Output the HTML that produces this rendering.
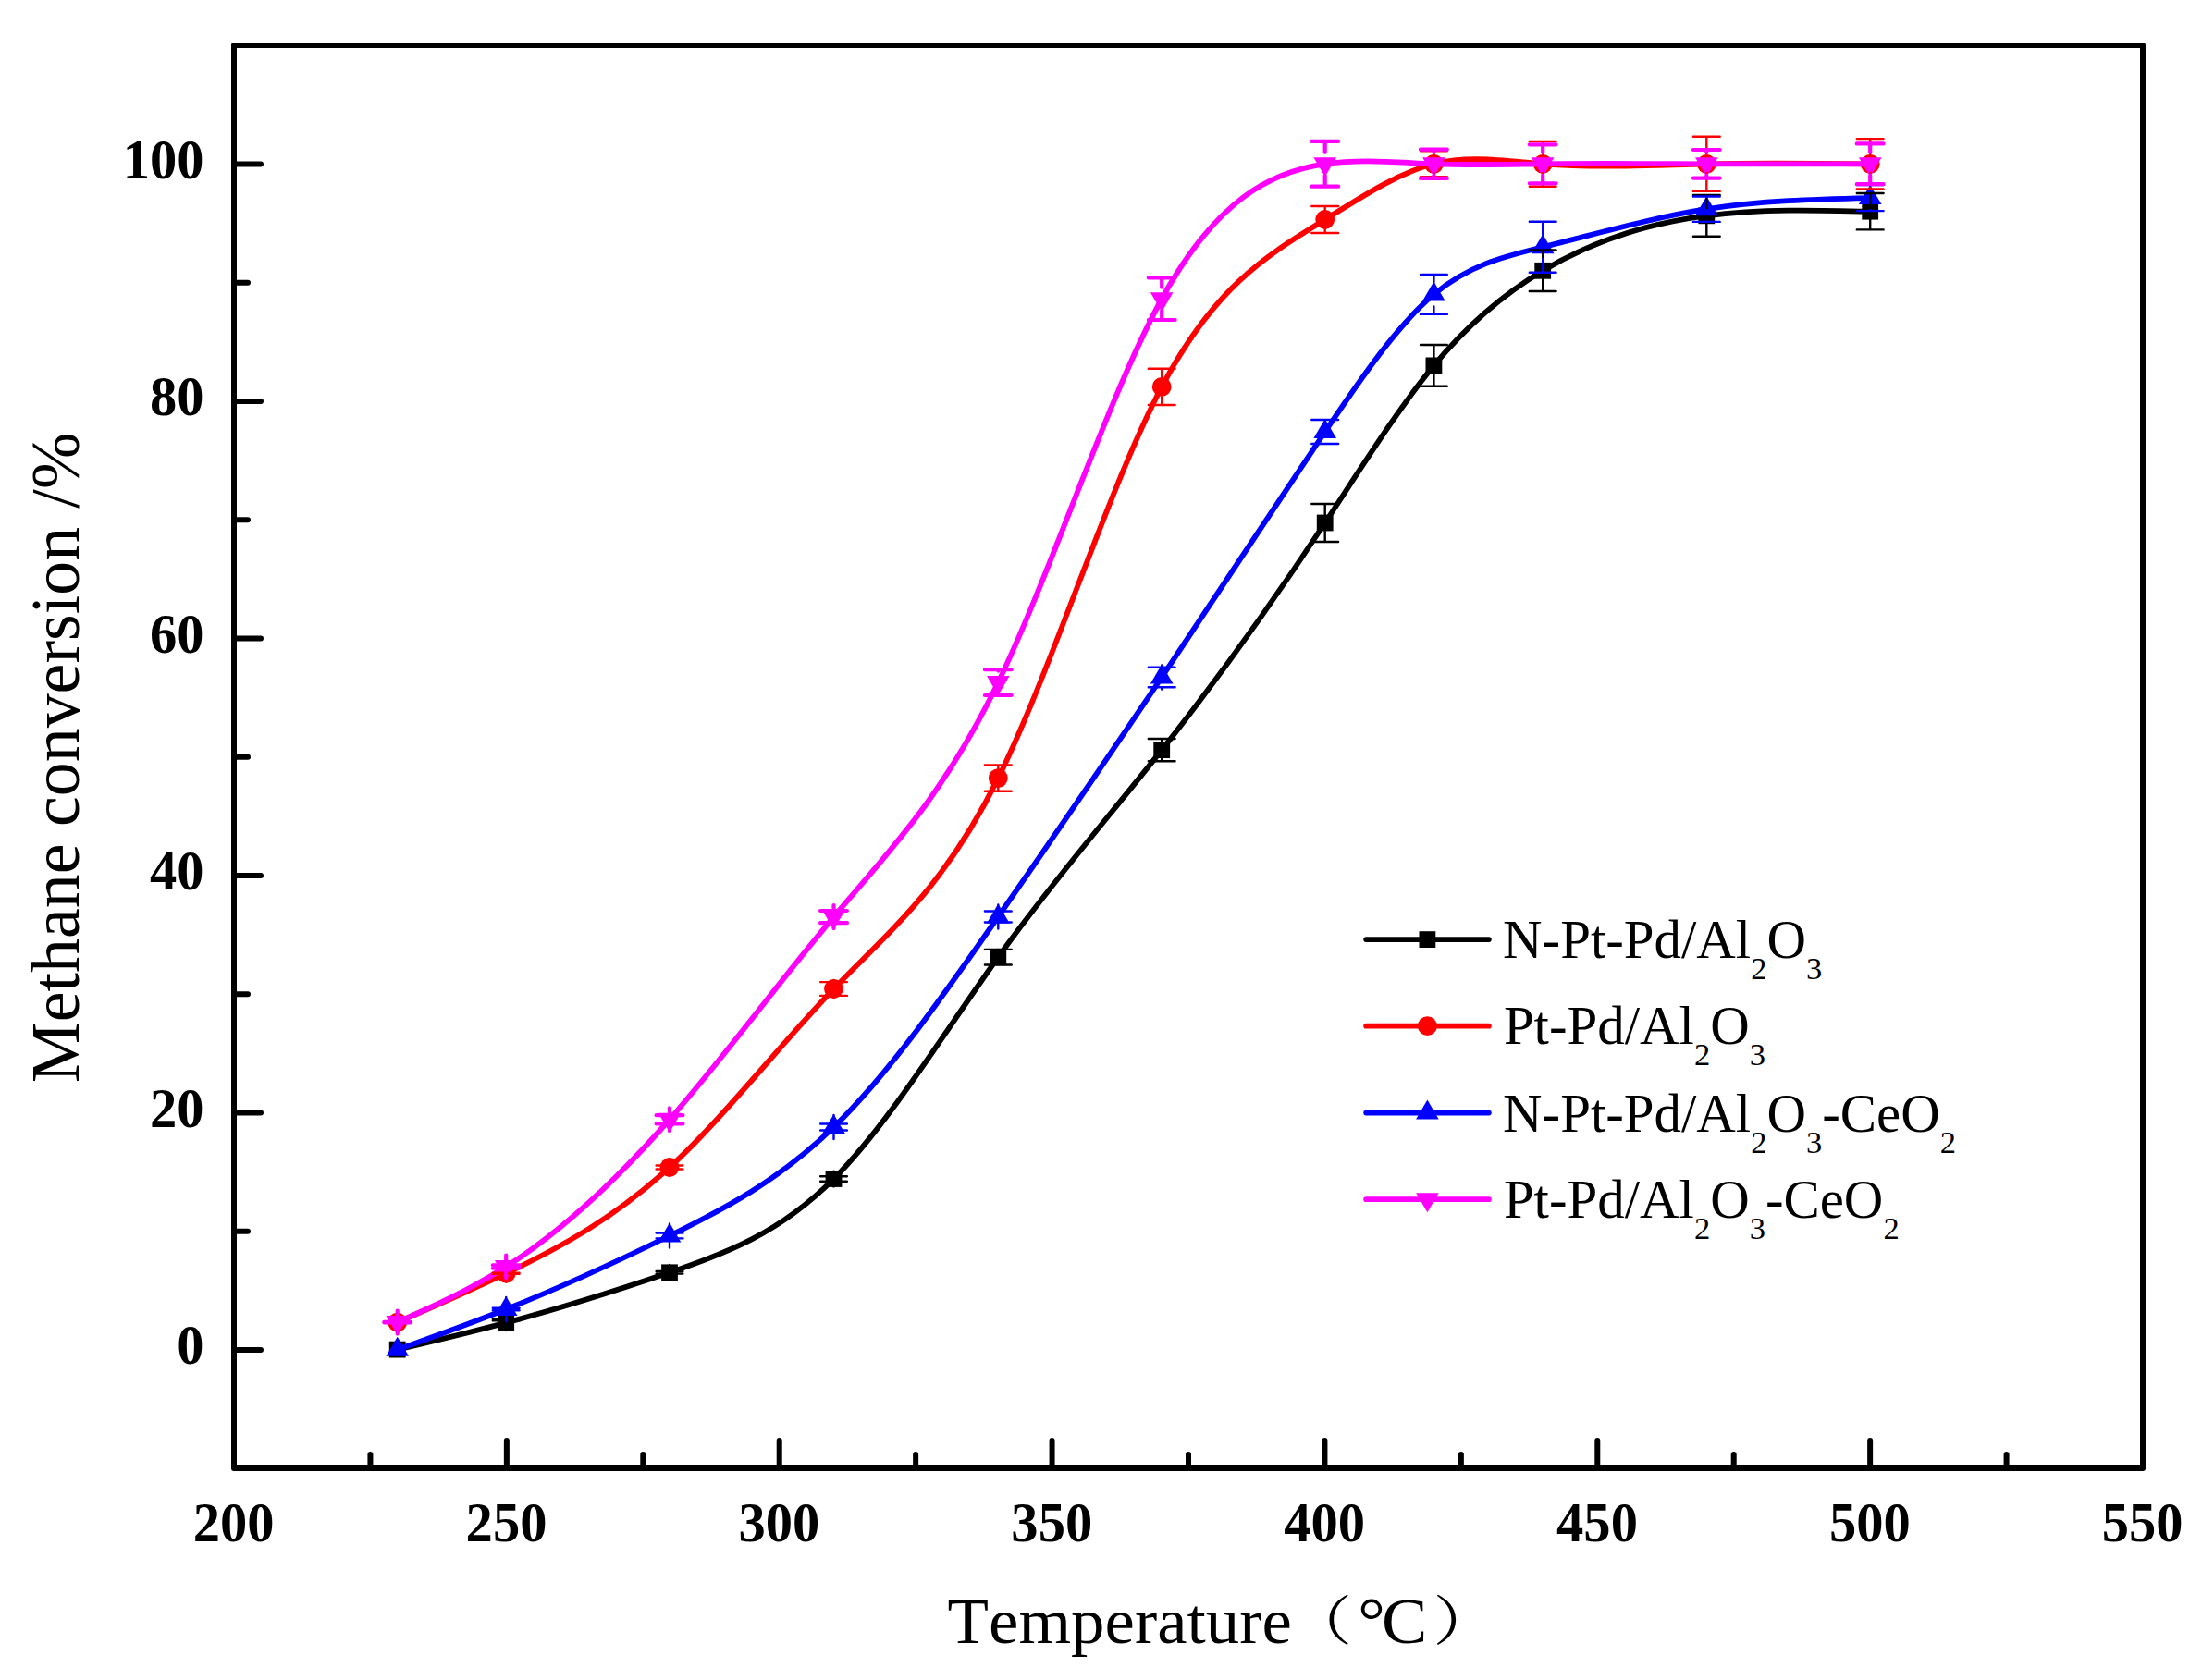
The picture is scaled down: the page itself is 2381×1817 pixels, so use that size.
<!DOCTYPE html>
<html lang="en"><head><meta charset="utf-8"><title>Methane conversion vs temperature</title>
<style>html,body{margin:0;padding:0;background:#fff}svg{display:block}text{font-family:"Liberation Serif","Noto Serif CJK SC",serif;fill:#000;font-kerning:none}.tk{font-weight:bold;font-size:59.5px}.lg{font-size:58.85px}.sb{font-size:34.5px}</style></head><body>
<svg width="2381" height="1817" viewBox="0 0 2381 1817" role="img" aria-label="Methane conversion versus temperature">
<rect width="2381" height="1817" fill="#fff"/>
<g id="black">
<path d="M429.7 1459.6C468.87 1450.34 508.03 1441.07 547.2 1430.6C606.13 1414.84 665.07 1396.34 724 1376.3C783.17 1356.18 842.33 1334.52 901.5 1275C960.77 1215.38 1020.03 1117.79 1079.3 1035.2C1138.27 953.03 1197.23 885.72 1256.2 811.1C1315.03 736.65 1373.87 654.94 1432.7 565.5C1471.93 505.86 1511.17 442.78 1550.4 395.4C1589.67 347.97 1628.93 316.27 1668.2 292.8C1727.23 257.52 1786.27 240.88 1845.3 233.3C1904.27 225.73 1963.23 227.22 2022.2 228.7" fill="none" stroke="#000000" stroke-width="5.8" stroke-linecap="round" stroke-linejoin="round"/>
<rect x="420.8" y="1450.7" width="17.8" height="17.8" fill="#000000"/>
<rect x="538.3" y="1421.7" width="17.8" height="17.8" fill="#000000"/>
<rect x="715.1" y="1367.4" width="17.8" height="17.8" fill="#000000"/>
<rect x="892.6" y="1266.1" width="17.8" height="17.8" fill="#000000"/>
<rect x="1070.4" y="1026.3" width="17.8" height="17.8" fill="#000000"/>
<rect x="1247.3" y="802.2" width="17.8" height="17.8" fill="#000000"/>
<rect x="1423.8" y="556.6" width="17.8" height="17.8" fill="#000000"/>
<rect x="1541.5" y="386.5" width="17.8" height="17.8" fill="#000000"/>
<rect x="1659.3" y="283.9" width="17.8" height="17.8" fill="#000000"/>
<rect x="1836.4" y="224.4" width="17.8" height="17.8" fill="#000000"/>
<rect x="2013.3" y="219.8" width="17.8" height="17.8" fill="#000000"/>
</g>
<g id="red">
<path d="M429.7 1430.2C468.87 1413.1 508.03 1396 547.2 1377.2C606.13 1348.92 665.07 1316.8 724 1262.5C783.17 1207.98 842.33 1131.11 901.5 1069.5C960.77 1007.79 1020.03 961.4 1079.3 841.6C1138.27 722.4 1197.23 530.54 1256.2 418.4C1315.03 306.52 1373.87 274 1432.7 237.5C1471.93 213.16 1511.17 187.04 1550.4 177.3C1589.67 167.55 1628.93 174.19 1668.2 177.3C1727.23 181.97 1786.27 178.63 1845.3 177.3C1904.27 175.97 1963.23 176.63 2022.2 177.3" fill="none" stroke="#ff0000" stroke-width="5.8" stroke-linecap="round" stroke-linejoin="round"/>
<circle cx="429.7" cy="1430.2" r="10.4" fill="#ff0000"/>
<circle cx="547.2" cy="1377.2" r="10.4" fill="#ff0000"/>
<circle cx="724" cy="1262.5" r="10.4" fill="#ff0000"/>
<circle cx="901.5" cy="1069.5" r="10.4" fill="#ff0000"/>
<circle cx="1079.3" cy="841.6" r="10.4" fill="#ff0000"/>
<circle cx="1256.2" cy="418.4" r="10.4" fill="#ff0000"/>
<circle cx="1432.7" cy="237.5" r="10.4" fill="#ff0000"/>
<circle cx="1550.4" cy="177.3" r="10.4" fill="#ff0000"/>
<circle cx="1668.2" cy="177.3" r="10.4" fill="#ff0000"/>
<circle cx="1845.3" cy="177.3" r="10.4" fill="#ff0000"/>
<circle cx="2022.2" cy="177.3" r="10.4" fill="#ff0000"/>
</g>
<g id="blue">
<path d="M429.7 1459.7C468.87 1445.66 508.03 1431.62 547.2 1416C606.13 1392.5 665.07 1365.42 724 1336.5C783.17 1307.46 842.33 1276.57 901.5 1219C960.77 1161.33 1020.03 1076.9 1079.3 991.5C1138.27 906.53 1197.23 820.59 1256.2 732.5C1315.03 644.6 1373.87 554.56 1432.7 467C1471.93 408.61 1511.17 351.33 1550.4 318.4C1589.67 285.45 1628.93 276.89 1668.2 267.2C1727.23 252.63 1786.27 235.48 1845.3 226.2C1904.27 216.93 1963.23 215.52 2022.2 214.1" fill="none" stroke="#0000ff" stroke-width="5.8" stroke-linecap="round" stroke-linejoin="round"/>
<polygon points="417.4,1466.7 442,1466.7 429.7,1445.7" fill="#0000ff"/>
<polygon points="534.9,1423 559.5,1423 547.2,1402" fill="#0000ff"/>
<polygon points="711.7,1343.5 736.3,1343.5 724,1322.5" fill="#0000ff"/>
<polygon points="889.2,1226 913.8,1226 901.5,1205" fill="#0000ff"/>
<polygon points="1067,998.5 1091.6,998.5 1079.3,977.5" fill="#0000ff"/>
<polygon points="1243.9,739.5 1268.5,739.5 1256.2,718.5" fill="#0000ff"/>
<polygon points="1420.4,474 1445,474 1432.7,453" fill="#0000ff"/>
<polygon points="1538.1,325.4 1562.7,325.4 1550.4,304.4" fill="#0000ff"/>
<polygon points="1655.9,274.2 1680.5,274.2 1668.2,253.2" fill="#0000ff"/>
<polygon points="1833,233.2 1857.6,233.2 1845.3,212.2" fill="#0000ff"/>
<polygon points="2009.9,221.1 2034.5,221.1 2022.2,200.1" fill="#0000ff"/>
</g>
<g id="magenta">
<path d="M429.7 1430.1C468.87 1412.53 508.03 1394.95 547.2 1370C606.13 1332.45 665.07 1278.2 724 1210.75C783.17 1143.04 842.33 1062.02 901.5 991.6C960.77 921.06 1020.03 861.14 1079.3 738.1C1138.27 615.68 1197.23 430.77 1256.2 323.25C1315.03 215.97 1373.87 185.72 1432.7 177.3C1471.93 171.68 1511.17 175.77 1550.4 177.3C1589.67 178.83 1628.93 177.79 1668.2 177.3C1727.23 176.57 1786.27 177.09 1845.3 177.3C1904.27 177.51 1963.23 177.4 2022.2 177.3" fill="none" stroke="#ff00ff" stroke-width="5.8" stroke-linecap="round" stroke-linejoin="round"/>
<polygon points="417.4,1423.1 442,1423.1 429.7,1444.1" fill="#ff00ff"/>
<polygon points="534.9,1363 559.5,1363 547.2,1384" fill="#ff00ff"/>
<polygon points="711.7,1203.75 736.3,1203.75 724,1224.75" fill="#ff00ff"/>
<polygon points="889.2,984.6 913.8,984.6 901.5,1005.6" fill="#ff00ff"/>
<polygon points="1067,731.1 1091.6,731.1 1079.3,752.1" fill="#ff00ff"/>
<polygon points="1243.9,316.25 1268.5,316.25 1256.2,337.25" fill="#ff00ff"/>
<polygon points="1420.4,170.3 1445,170.3 1432.7,191.3" fill="#ff00ff"/>
<polygon points="1538.1,170.3 1562.7,170.3 1550.4,191.3" fill="#ff00ff"/>
<polygon points="1655.9,170.3 1680.5,170.3 1668.2,191.3" fill="#ff00ff"/>
<polygon points="1833,170.3 1857.6,170.3 1845.3,191.3" fill="#ff00ff"/>
<polygon points="2009.9,170.3 2034.5,170.3 2022.2,191.3" fill="#ff00ff"/>
</g>
<path d="M547.2 1426.8V1422.2M547.2 1439V1428.4M532.8 1426.8H561.6M532.8 1428.4H561.6M724 1375V1367.9M724 1384.7V1377.6M709.6 1375H738.4M709.6 1377.6H738.4M901.5 1272.25V1266.6M901.5 1283.4V1277.75M887.1 1272.25H915.9M887.1 1277.75H915.9M1079.3 1026.9V1026.8M1079.3 1043.6V1043.5M1064.9 1026.9H1093.7M1064.9 1043.5H1093.7M1256.2 799V802.7M1256.2 819.5V823.2M1241.8 799H1270.6M1241.8 823.2H1270.6M1432.7 545V557.1M1432.7 573.9V586M1418.3 545H1447.1M1418.3 586H1447.1M1550.4 373V387M1550.4 403.8V417.8M1536 373H1564.8M1536 417.8H1564.8M1668.2 270.55V284.4M1668.2 301.2V315.05M1653.8 270.55H1682.6M1653.8 315.05H1682.6M1845.3 210.9V224.9M1845.3 241.7V255.7M1830.9 210.9H1859.7M1830.9 255.7H1859.7M2022.2 209V220.3M2022.2 237.1V248.4M2007.8 209H2036.6M2007.8 248.4H2036.6" fill="none" stroke="#000000" stroke-width="2.4" stroke-linecap="round"/>
<path d="M429.7 1429.7V1420.6M429.7 1439.8V1430.7M415.3 1429.7H444.1M415.3 1430.7H444.1M547.2 1376.6V1367.6M547.2 1386.8V1377.8M532.8 1376.6H561.6M532.8 1377.8H561.6M724 1260.5V1252.9M724 1272.1V1264.5M709.6 1260.5H738.4M709.6 1264.5H738.4M901.5 1062.1V1059.9M901.5 1079.1V1076.9M887.1 1062.1H915.9M887.1 1076.9H915.9M1079.3 827.5V832M1079.3 851.2V855.7M1064.9 827.5H1093.7M1064.9 855.7H1093.7M1256.2 398.8V408.8M1256.2 428V438M1241.8 398.8H1270.6M1241.8 438H1270.6M1432.7 223V227.9M1432.7 247.1V252M1418.3 223H1447.1M1418.3 252H1447.1M1550.4 163.3V167.7M1550.4 186.9V191.3M1536 163.3H1564.8M1536 191.3H1564.8M1668.2 152.9V167.7M1668.2 186.9V201.7M1653.8 152.9H1682.6M1653.8 201.7H1682.6M1845.3 147.7V167.7M1845.3 186.9V206.9M1830.9 147.7H1859.7M1830.9 206.9H1859.7M2022.2 150.1V167.7M2022.2 186.9V204.5M2007.8 150.1H2036.6M2007.8 204.5H2036.6" fill="none" stroke="#ff0000" stroke-width="2.4" stroke-linecap="round"/>
<path d="M547.2 1414.8V1403M547.2 1429V1417.2M532.8 1414.8H561.6M532.8 1417.2H561.6M724 1333.6V1323.5M724 1349.5V1339.4M709.6 1333.6H738.4M709.6 1339.4H738.4M901.5 1215.5V1206M901.5 1232V1222.5M887.1 1215.5H915.9M887.1 1222.5H915.9M1079.3 985.5V978.5M1079.3 1004.5V997.5M1064.9 985.5H1093.7M1064.9 997.5H1093.7M1256.2 721.75V719.5M1256.2 745.5V743.25M1241.8 721.75H1270.6M1241.8 743.25H1270.6M1432.7 454V454M1432.7 480V480M1418.3 454H1447.1M1418.3 480H1447.1M1550.4 296.9V305.4M1550.4 331.4V339.9M1536 296.9H1564.8M1536 339.9H1564.8M1668.2 239.7V254.2M1668.2 280.2V294.7M1653.8 239.7H1682.6M1653.8 294.7H1682.6M1845.3 212.5V213.2M1845.3 239.2V239.9M1830.9 212.5H1859.7M1830.9 239.9H1859.7M2022.2 200.1V201.1M2022.2 227.1V228.1M2007.8 200.1H2036.6M2007.8 228.1H2036.6" fill="none" stroke="#0000ff" stroke-width="2.4" stroke-linecap="round"/>
<path d="M429.7 1429.9V1417.6M429.7 1442.6V1430.3M415.3 1429.9H444.1M415.3 1430.3H444.1M547.2 1368.25V1357.5M547.2 1382.5V1371.75M532.8 1368.25H561.6M532.8 1371.75H561.6M724 1206.15V1198.25M724 1223.25V1215.35M709.6 1206.15H738.4M709.6 1215.35H738.4M901.5 985V979.1M901.5 1004.1V998.2M887.1 985H915.9M887.1 998.2H915.9M1079.3 724.2V725.6M1079.3 750.6V752M1064.9 724.2H1093.7M1064.9 752H1093.7M1256.2 300.5V310.75M1256.2 335.75V346M1241.8 300.5H1270.6M1241.8 346H1270.6M1432.7 152.9V164.8M1432.7 189.8V201.7M1418.3 152.9H1447.1M1418.3 201.7H1447.1M1550.4 161.7V164.8M1550.4 189.8V192.9M1536 161.7H1564.8M1536 192.9H1564.8M1668.2 156.3V164.8M1668.2 189.8V198.3M1653.8 156.3H1682.6M1653.8 198.3H1682.6M1845.3 162V164.8M1845.3 189.8V192.6M1830.9 162H1859.7M1830.9 192.6H1859.7M2022.2 155.4V164.8M2022.2 189.8V199.2M2007.8 155.4H2036.6M2007.8 199.2H2036.6" fill="none" stroke="#ff00ff" stroke-width="4.2" stroke-linecap="round"/>
<rect x="253" y="49" width="2064" height="1539" fill="none" stroke="#000" stroke-width="6" stroke-linejoin="round"/>
<path d="M400.43 1588v-15M547.86 1588v-30M695.29 1588v-15M842.71 1588v-30M990.14 1588v-15M1137.57 1588v-30M1285 1588v-15M1432.43 1588v-30M1579.86 1588v-15M1727.29 1588v-30M1874.71 1588v-15M2022.14 1588v-30M2169.57 1588v-15M253 1460.05h29M253 1331.8h15M253 1203.55h29M253 1075.3h15M253 947.05h29M253 818.8h15M253 690.55h29M253 562.3h15M253 434.05h29M253 305.8h15M253 177.55h29" fill="none" stroke="#000" stroke-width="6" stroke-linecap="round"/>
<text class="tk" transform="translate(252.7,1666.7) scale(0.985,1.025)" text-anchor="middle">200</text>
<text class="tk" transform="translate(547.56,1666.7) scale(0.985,1.025)" text-anchor="middle">250</text>
<text class="tk" transform="translate(842.41,1666.7) scale(0.985,1.025)" text-anchor="middle">300</text>
<text class="tk" transform="translate(1137.27,1666.7) scale(0.985,1.025)" text-anchor="middle">350</text>
<text class="tk" transform="translate(1432.13,1666.7) scale(0.985,1.025)" text-anchor="middle">400</text>
<text class="tk" transform="translate(1726.99,1666.7) scale(0.985,1.025)" text-anchor="middle">450</text>
<text class="tk" transform="translate(2021.84,1666.7) scale(0.985,1.025)" text-anchor="middle">500</text>
<text class="tk" transform="translate(2316.7,1666.7) scale(0.985,1.025)" text-anchor="middle">550</text>
<text class="tk" transform="translate(220.6,1475.45) scale(0.985,1.025)" text-anchor="end">0</text>
<text class="tk" transform="translate(220.6,1218.95) scale(0.985,1.025)" text-anchor="end">20</text>
<text class="tk" transform="translate(220.6,962.45) scale(0.985,1.025)" text-anchor="end">40</text>
<text class="tk" transform="translate(220.6,705.95) scale(0.985,1.025)" text-anchor="end">60</text>
<text class="tk" transform="translate(220.6,449.45) scale(0.985,1.025)" text-anchor="end">80</text>
<text class="tk" transform="translate(220.6,192.95) scale(0.985,1.025)" text-anchor="end">100</text>
<text transform="translate(1024.6,1776.6) scale(1.041,1)" font-size="70">Temperature</text>
<text transform="translate(1391,1773.7) scale(1.23,1)" font-size="58">（</text>
<text transform="translate(1468.2,1776.4) scale(1.055,1)" font-size="70">°</text>
<text transform="translate(1493.9,1776.6) scale(1.055,1)" font-size="70">C</text>
<text transform="translate(1549.2,1773.7) scale(1.23,1)" font-size="58">）</text>
<text transform="translate(85.2,1171) rotate(-90)" font-size="73.9">Methane conversion <tspan dx="1.7">/%</tspan></text>
<path d="M1477.1 1016.1H1609.9" stroke="#000000" stroke-width="5.7" stroke-linecap="round" fill="none"/>
<rect x="1534.5" y="1007.2" width="17.8" height="17.8" fill="#000000"/>
<text class="lg" x="1625.1" y="1035.7"><tspan>N-Pt-Pd/Al</tspan><tspan class="sb" dy="23.1">2</tspan><tspan dy="-23.1">O</tspan><tspan class="sb" dy="23.1">3</tspan></text>
<path d="M1477.1 1109.7H1609.9" stroke="#ff0000" stroke-width="5.7" stroke-linecap="round" fill="none"/>
<circle cx="1543.4" cy="1109.7" r="10.4" fill="#ff0000"/>
<text class="lg" x="1625.9" y="1129.2"><tspan>Pt-Pd/Al</tspan><tspan class="sb" dy="23.1">2</tspan><tspan dy="-23.1">O</tspan><tspan class="sb" dy="23.1">3</tspan></text>
<path d="M1477.1 1203.6H1609.9" stroke="#0000ff" stroke-width="5.7" stroke-linecap="round" fill="none"/>
<polygon points="1531.1,1210.6 1555.7,1210.6 1543.4,1189.6" fill="#0000ff"/>
<text class="lg" x="1625.1" y="1223.7"><tspan>N-Pt-Pd/Al</tspan><tspan class="sb" dy="23.1">2</tspan><tspan dy="-23.1">O</tspan><tspan class="sb" dy="23.1">3</tspan><tspan dy="-23.1">-CeO</tspan><tspan class="sb" dy="23.1">2</tspan></text>
<path d="M1477.1 1297.2H1609.9" stroke="#ff00ff" stroke-width="5.7" stroke-linecap="round" fill="none"/>
<polygon points="1531.1,1290.2 1555.7,1290.2 1543.4,1311.2" fill="#ff00ff"/>
<text class="lg" x="1625.9" y="1317"><tspan>Pt-Pd/Al</tspan><tspan class="sb" dy="23.1">2</tspan><tspan dy="-23.1">O</tspan><tspan class="sb" dy="23.1">3</tspan><tspan dy="-23.1">-CeO</tspan><tspan class="sb" dy="23.1">2</tspan></text>
</svg></body></html>
